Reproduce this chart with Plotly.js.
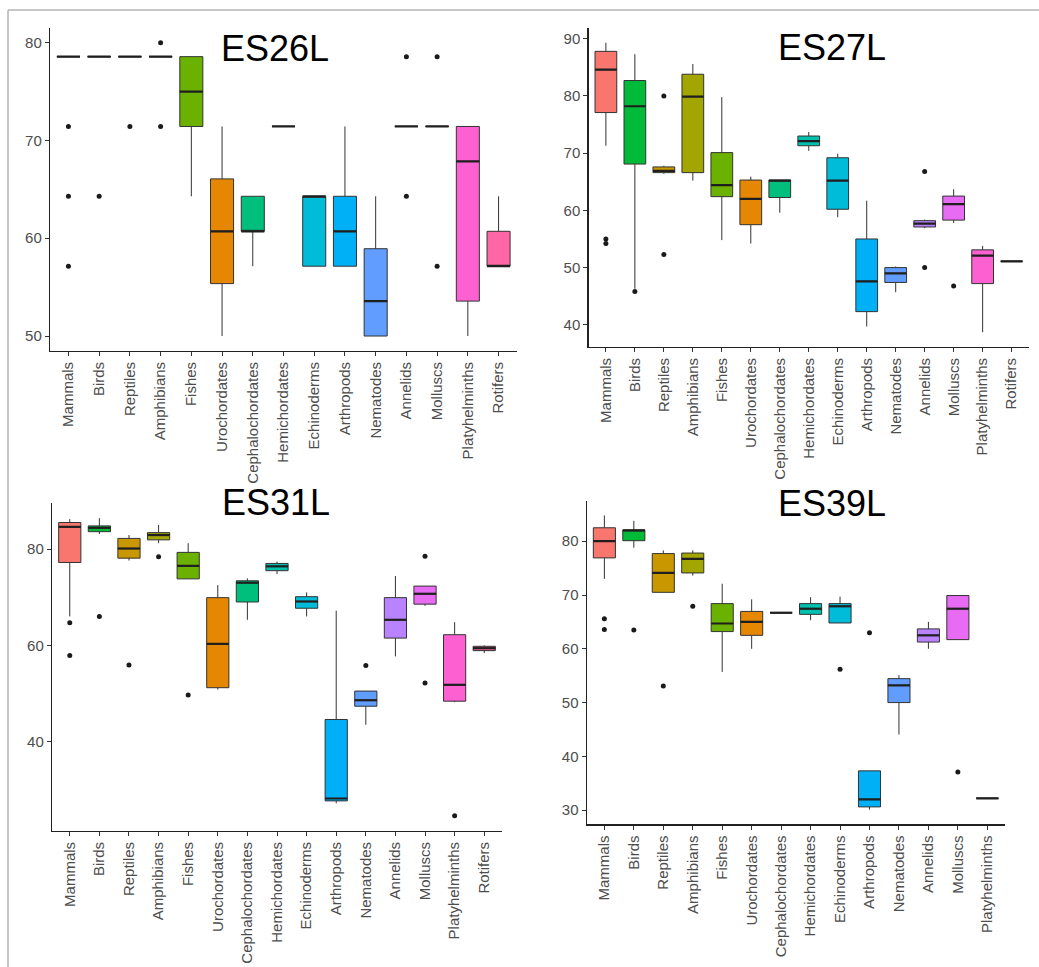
<!DOCTYPE html>
<html>
<head>
<meta charset="utf-8">
<script src="https://cdn.plot.ly/plotly-3.0.1.min.js"></script>
<style>html,body{margin:0;padding:0;background:#fff;}#chart{width:1039px;height:967px;}</style>
</head>
<body>
<div id="chart"></div>
<script>
// ---------- DATA ----------
const cats = ["Mammals","Birds","Reptiles","Amphibians","Fishes","Urochordates","Cephalochordates","Hemichordates","Echinoderms","Arthropods","Nematodes","Annelids","Molluscs","Platyhelminths","Rotifers"];
const colors = ["#F8766D","#00BA38","#C99800","#A3A500","#6BB100","#E58700","#00BF7D","#00C0AF","#00BCD8","#00B0F6","#619CFF","#B983FF","#E76BF3","#FD61D1","#FF67A4"];

// ES26L
const es26_lo  = [78.57,78.57,78.57,78.57,64.29,50.00,57.14,71.43,57.14,57.14,50.00,71.43,71.43,50.00,57.14];
const es26_q1  = [78.57,78.57,78.57,78.57,71.43,55.36,60.71,71.43,57.14,57.14,50.00,71.43,71.43,53.57,57.14];
const es26_med = [78.57,78.57,78.57,78.57,75.00,60.71,60.71,71.43,64.29,60.71,53.57,71.43,71.43,67.86,57.14];
const es26_q3  = [78.57,78.57,78.57,78.57,78.57,66.07,64.29,71.43,64.29,64.29,58.93,71.43,71.43,71.43,60.71];
const es26_hi  = [78.57,78.57,78.57,78.57,78.57,71.43,64.29,71.43,64.29,71.43,64.29,71.43,71.43,71.43,64.29];
const es26_out = [[71.43,64.29,57.14],[64.29],[71.43],[80.0,71.43],[],[],[],[],[],[],[],[78.57,64.29],[78.57,57.14],[],[]];

// ES27L
const es27_lo  = [71.3,46.3,66.4,65.2,54.8,54.2,59.6,70.4,58.8,39.7,45.7,56.9,57.8,38.7,51.1];
const es27_q1  = [77.1,68.1,66.6,66.6,62.4,57.5,62.25,71.3,60.2,42.3,47.4,57.1,58.3,47.2,51.1];
const es27_med = [84.6,78.2,66.9,79.9,64.4,62.0,65.2,72.1,65.2,47.6,49.0,57.7,61.1,52.1,51.1];
const es27_q3  = [87.8,82.7,67.6,83.8,70.1,65.3,65.3,73.0,69.2,55.0,50.0,58.2,62.5,53.1,51.1];
const es27_hi  = [89.3,87.3,67.8,85.6,79.8,65.9,65.3,73.7,69.9,61.7,50.2,58.4,63.7,53.8,51.1];
const es27_out = [[55.0,54.2],[45.8],[80.0,52.3],[],[],[],[],[],[],[],[],[66.8,50.0],[46.8],[],[]];

// ES31L
const es31_lo  = [66.0,83.1,77.6,81.2,73.8,50.8,65.3,74.8,66.0,27.2,43.5,57.7,68.2,48.2,58.4];
const es31_q1  = [77.2,83.6,78.1,81.9,73.8,51.2,69.0,75.5,67.7,27.7,47.35,61.5,68.55,48.4,58.9];
const es31_med = [84.6,84.4,80.1,82.9,76.5,60.3,73.0,76.4,69.1,28.2,48.6,65.3,70.7,51.8,59.4];
const es31_q3  = [85.5,84.8,82.2,83.4,79.3,69.9,73.4,77.0,70.1,44.6,50.5,69.9,72.3,62.2,59.8];
const es31_hi  = [86.2,86.4,82.9,85.0,81.2,72.5,73.9,77.4,71.0,67.2,50.5,74.4,72.3,64.8,60.0];
const es31_out = [[64.7,57.9],[66.0],[55.9],[78.4],[49.7],[],[],[],[],[],[55.8],[],[78.5,52.2],[24.6],[]];

// ES39L (no Rotifers)
const es39_lo  = [73.0,78.8,70.5,73.6,55.7,60.0,66.7,65.3,64.8,30.1,44.05,60.0,61.7,32.2];
const es39_q1  = [76.9,80.1,70.5,74.1,63.2,62.5,66.7,66.4,64.8,30.6,50.0,61.25,61.7,32.2];
const es39_med = [80.0,82.0,74.1,76.7,64.7,65.0,66.7,67.45,67.9,32.0,53.2,62.5,67.45,32.2];
const es39_q3  = [82.5,82.1,77.7,77.8,68.4,66.95,66.7,68.4,68.4,37.3,54.45,63.7,69.9,32.2];
const es39_hi  = [84.8,83.8,78.3,78.3,72.1,69.2,66.7,69.6,69.7,37.3,55.1,65.0,70.0,32.2];
const es39_out = [[65.6,63.6],[63.5],[53.1],[67.9],[],[],[],[],[56.2],[63.0],[],[],[37.1],[]];

const titles = ["ES26L","ES27L","ES31L","ES39L"];

// ---------- LAYOUT ----------
const W = 1039, H = 967;
const px = v => v / W;
const py = v => 1 - v / H;

const panels = [
  {title: titles[0], lo: es26_lo, q1: es26_q1, med: es26_med, q3: es26_q3, hi: es26_hi, out: es26_out,
   xd: [50, 517], yd: [28, 350.7], dtick: 10, tpos: [275, 49]},
  {title: titles[1], lo: es27_lo, q1: es27_q1, med: es27_med, q3: es27_q3, hi: es27_hi, out: es27_out,
   xd: [588.5, 1029], yd: [28.3, 346.7], dtick: 10, tpos: [831.5, 48]},
  {title: titles[2], lo: es31_lo, q1: es31_q1, med: es31_med, q3: es31_q3, hi: es31_hi, out: es31_out,
   xd: [52, 502], yd: [503.3, 830.7], dtick: 20, tpos: [275.5, 502.5]},
  {title: titles[3], lo: es39_lo, q1: es39_q1, med: es39_med, q3: es39_q3, hi: es39_hi, out: es39_out,
   xd: [586.7, 1005], yd: [500.7, 824.3], dtick: 10, tpos: [831.5, 503]}
];

const traces = [];
const layout = {
  width: W, height: H,
  margin: {l: 0, r: 0, t: 0, b: 0},
  paper_bgcolor: "#ffffff", plot_bgcolor: "#ffffff",
  showlegend: false, boxmode: "overlay",
  font: {family: "Liberation Sans, Arial, sans-serif"},
  annotations: [],
  shapes: [
    {type: "line", xref: "paper", yref: "paper", x0: px(8), x1: 1, y0: py(10), y1: py(10), line: {color: "#b5b5b5", width: 1.5}},
    {type: "line", xref: "paper", yref: "paper", x0: px(8), x1: px(8), y0: 0, y1: py(10), line: {color: "#b5b5b5", width: 1.5}}
  ]
};

panels.forEach((p, k) => {
  const s = k === 0 ? "" : String(k + 1);
  const n = p.lo.length;
  const ox = [], oy = [];
  let mn = Infinity, mx = -Infinity;
  for (let i = 0; i < n; i++) {
    traces.push({
      type: "box", x: [i], q1: [p.q1[i]], median: [p.med[i]], q3: [p.q3[i]],
      lowerfence: [p.lo[i]], upperfence: [p.hi[i]],
      width: 0.75, whiskerwidth: 0,
      fillcolor: colors[i], line: {color: "#333333", width: 1},
      xaxis: "x" + s, yaxis: "y" + s, hoverinfo: "skip", showlegend: false
    });
    traces.push({
      type: "scatter", mode: "lines", x: [i - 0.375, i + 0.375], y: [p.med[i], p.med[i]],
      line: {color: "#1f1f1f", width: 2.2}, xaxis: "x" + s, yaxis: "y" + s, hoverinfo: "skip", showlegend: false
    });
    mn = Math.min(mn, p.lo[i]); mx = Math.max(mx, p.hi[i]);
    p.out[i].forEach(v => { ox.push(i); oy.push(v); mn = Math.min(mn, v); mx = Math.max(mx, v); });
  }
  traces.push({
    type: "scatter", mode: "markers", x: ox, y: oy,
    marker: {color: "#1a1a1a", size: 5}, xaxis: "x" + s, yaxis: "y" + s, hoverinfo: "skip", showlegend: false
  });
  const pad = (mx - mn) * 0.05;
  layout["xaxis" + s] = {
    domain: [px(p.xd[0]), px(p.xd[1])], anchor: "y" + s,
    range: [-0.6, n - 0.4],
    tickmode: "array", tickvals: cats.slice(0, n).map((c, i) => i), ticktext: cats.slice(0, n),
    tickangle: -90, ticks: "outside", ticklen: 4, tickwidth: 1, tickcolor: "#333333",
    tickfont: {size: 15, color: "#4d4d4d"},
    showline: true, linecolor: "#222222", linewidth: 1.2,
    showgrid: false, zeroline: false, fixedrange: true
  };
  layout["yaxis" + s] = {
    domain: [py(p.yd[1]), py(p.yd[0])], anchor: "x" + s,
    range: [mn - pad, mx + pad], dtick: p.dtick, tick0: 0,
    ticks: "outside", ticklen: 4, tickwidth: 1, tickcolor: "#333333",
    tickfont: {size: 15, color: "#4d4d4d"},
    showline: true, linecolor: "#222222", linewidth: 1.2,
    showgrid: false, zeroline: false, fixedrange: true
  };
  layout.annotations.push({
    text: p.title, xref: "paper", yref: "paper",
    x: px(p.tpos[0]), y: py(p.tpos[1]), xanchor: "center", yanchor: "middle",
    showarrow: false, font: {size: 36, color: "#000000"}
  });
});

Plotly.newPlot("chart", traces, layout, {displayModeBar: false, staticPlot: true});
</script>
</body>
</html>
